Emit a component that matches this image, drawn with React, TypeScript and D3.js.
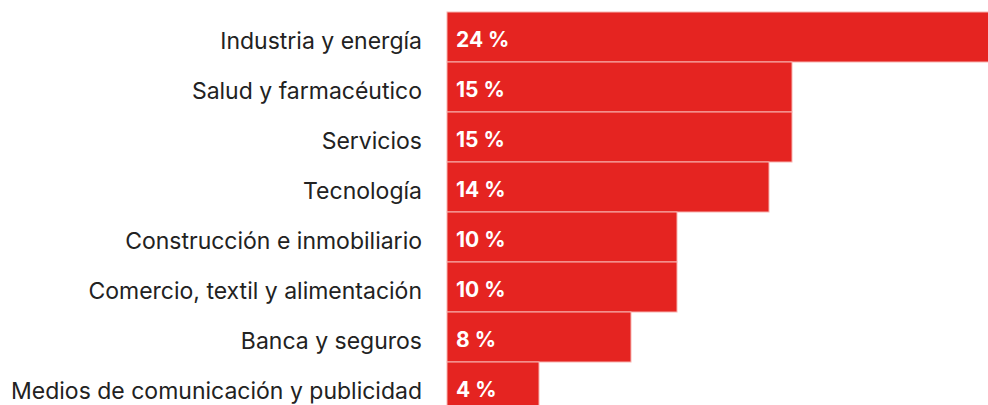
import React from "react";
import * as d3 from "d3";

const categories = [
  "Industria y energía",
  "Salud y farmacéutico",
  "Servicios ",
  "Tecnología",
  "Construcción e inmobiliario",
  "Comercio, textil y alimentación",
  "Banca y seguros",
  "Medios de comunicación y publicidad",
];
const values = [24, 15, 15, 14, 10, 10, 8, 4];
const valueLabels = ["24 %", "15 %", "15 %", "14 %", "10 %", "10 %", "8 %", "4 %"];

const W = 988;
const H = 405;

export default function App() {
  const x = d3.scaleLinear().domain([0, 10]).range([447, 677]);
  const y = d3
    .scaleBand<string>()
    .domain(categories)
    .range([12, 12 + 50 * categories.length])
    .paddingInner(0)
    .paddingOuter(0);
  const bh = y.bandwidth();
  return (
    <svg
      width={W}
      height={H}
      style={{ position: "absolute", left: 0, top: 0, background: "#fff" }}
      fontFamily="Inter, 'Noto Sans', sans-serif"
    >
      {categories.map((c, i) => (
        <g key={c}>
          <rect
            x={x(0)}
            y={y(c)!}
            width={x(values[i]) - x(0)}
            height={bh}
            fill="#e52421"
            stroke="#f7b3b0"
            strokeWidth={1}
          />
          <text
            x={422}
            y={y(c)! + bh / 2 + 11.5}
            textAnchor="end"
            fontSize={23}
            fill="#222"
          >
            {c}
          </text>
          <text
            x={456}
            y={y(c)! + bh / 2 + 10}
            fontSize={21}
            fontWeight={700}
            fill="#fff"
          >
            {valueLabels[i]}
          </text>
        </g>
      ))}
    </svg>
  );
}
